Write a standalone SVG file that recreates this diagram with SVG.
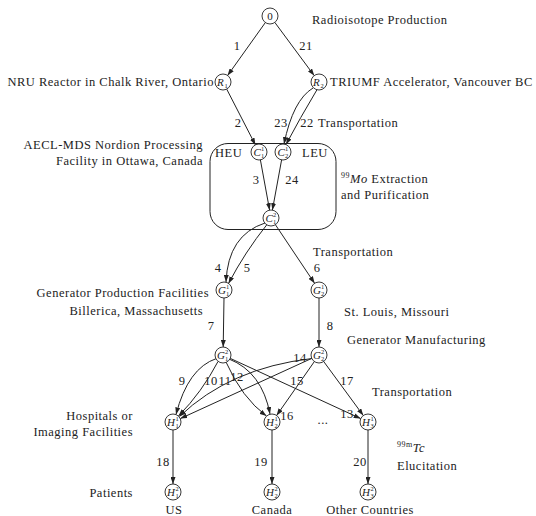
<svg xmlns="http://www.w3.org/2000/svg" width="536" height="516" viewBox="0 0 536 516">
<style>
.t{font-family:"Liberation Serif","Times New Roman",serif;font-size:12.5px;fill:#222;letter-spacing:0.5px}
.n{font-family:"Liberation Serif","Times New Roman",serif;font-size:11px;font-style:italic;fill:#222}
.s{font-family:"Liberation Serif","Times New Roman",serif;font-size:6.5px;fill:#222}
.e{fill:none;stroke:#222;stroke-width:1;marker-end:url(#a)}
.c{fill:#fff;stroke:#222;stroke-width:0.9}
.m{text-anchor:middle}
.r{text-anchor:end}
</style>
<defs>
<marker id="a" markerUnits="userSpaceOnUse" markerWidth="7" markerHeight="5" refX="7" refY="2.5" orient="auto">
<path d="M0,0 L7,2.5 L0,5 z" fill="#222"/>
</marker>
</defs>
<rect width="536" height="516" fill="#fff"/>
<rect x="210" y="143.5" width="126" height="86" rx="18" fill="none" stroke="#222" stroke-width="1"/>
<g id="connectors">
<path class="e" d="M265.4,22.5 L227.6,75.5"/>
<path class="e" d="M274.8,22.4 L314.2,75.6"/>
<path class="e" d="M226.7,89.1 L255.4,144.9"/>
<path class="e" d="M313,88 Q293,100 284,144"/>
<path class="e" d="M317,89.7 Q300,118 286,144.5"/>
<path class="e" d="M260.4,159.9 L269.6,210.1"/>
<path class="e" d="M281.6,159.9 L272.4,210.1"/>
<path class="e" d="M265,223 Q228,235 226,282"/>
<path class="e" d="M267,224.5 Q245,252 228.5,283.5"/>
<path class="e" d="M275.4,224.7 L314.6,283.3"/>
<path class="e" d="M224,298 L223.2,347"/>
<path class="e" d="M319,298 L319,347"/>
<path class="e" d="M216.5,358.5 Q188,368 176,414.5"/>
<path class="e" d="M218,361.5 Q202,392 178.5,416"/>
<path class="e" d="M226,362 Q242,398 266.5,416"/>
<path class="e" d="M229,359 Q262,372 270,414"/>
<path class="e" d="M230.3,358.4 L360.7,418.6"/>
<path class="e" d="M312,358.5 Q230,368 179.5,416.5"/>
<path class="e" d="M311.7,358.4 L180.3,418.6"/>
<path class="e" d="M314.4,361.5 L276.6,415.5"/>
<path class="e" d="M323.7,361.5 L363.3,415.5"/>
<path class="e" d="M173,430 L173,484"/>
<path class="e" d="M272,430 L272,484"/>
<path class="e" d="M368,430 L368,484"/>
</g>
<g id="edge-labels" class="t m">
<text x="237" y="50">1</text>
<text x="306" y="50">21</text>
<text x="238" y="127">2</text>
<text x="281" y="127">23</text>
<text x="307" y="127">22</text>
<text x="256" y="184">3</text>
<text x="292" y="184">24</text>
<text x="218" y="272">4</text>
<text x="247" y="272">5</text>
<text x="317" y="272">6</text>
<text x="211" y="330">7</text>
<text x="330" y="330">8</text>
<text x="300" y="362">14</text>
<text x="182" y="385">9</text>
<text x="211" y="385">10</text>
<text x="225" y="385">11</text>
<text x="237" y="381">12</text>
<text x="297" y="385">15</text>
<text x="347" y="385">17</text>
<text x="287" y="420">16</text>
<text x="347" y="418">13</text>
<text x="323" y="424">...</text>
<text x="163" y="466">18</text>
<text x="261" y="466">19</text>
<text x="360" y="466">20</text>
</g>
<g id="n0"><circle class="c" cx="270" cy="16" r="8"/><text class="t m" x="270" y="20" style="font-size:11px;letter-spacing:0">0</text></g>
<g id="R1"><circle class="c" cx="223" cy="82" r="8"/><text class="n" x="217" y="85.8">R</text><text class="s" x="224.5" y="88">1</text></g>
<g id="R2"><circle class="c" cx="319" cy="82" r="8"/><text class="n" x="313" y="85.8">R</text><text class="s" x="320.5" y="88">2</text></g>
<g id="C11"><circle class="c" cx="259" cy="152" r="8"/><text class="n" x="253.5" y="155.8">C</text><text class="s" x="261" y="151">1</text><text class="s" x="261" y="157.5">1</text></g>
<g id="C12"><circle class="c" cx="283" cy="152" r="8"/><text class="n" x="277.5" y="155.8">C</text><text class="s" x="285" y="151">1</text><text class="s" x="285" y="157.5">2</text></g>
<g id="C2"><circle class="c" cx="271" cy="218" r="8"/><text class="n" x="265.5" y="221.8">C</text><text class="s" x="273" y="217">2</text><text class="s" x="273" y="223.5">1</text></g>
<g id="G11"><circle class="c" cx="224" cy="290" r="8"/><text class="n" x="218" y="293.8">G</text><text class="s" x="226" y="289">1</text><text class="s" x="226" y="295.5">1</text></g>
<g id="G21"><circle class="c" cx="319" cy="290" r="8"/><text class="n" x="313" y="293.8">G</text><text class="s" x="321" y="289">1</text><text class="s" x="321" y="295.5">2</text></g>
<g id="G12"><circle class="c" cx="223" cy="355" r="8"/><text class="n" x="217" y="358.8">G</text><text class="s" x="225" y="354">2</text><text class="s" x="225" y="360.5">1</text></g>
<g id="G22"><circle class="c" cx="319" cy="355" r="8"/><text class="n" x="313" y="358.8">G</text><text class="s" x="321" y="354">2</text><text class="s" x="321" y="360.5">2</text></g>
<g id="H11"><circle class="c" cx="173" cy="422" r="8"/><text class="n" x="167" y="425.8">H</text><text class="s" x="175.5" y="421">1</text><text class="s" x="175.5" y="427.5">1</text></g>
<g id="H21"><circle class="c" cx="272" cy="422" r="8"/><text class="n" x="266" y="425.8">H</text><text class="s" x="274.5" y="421">1</text><text class="s" x="274.5" y="427.5">2</text></g>
<g id="H31"><circle class="c" cx="368" cy="422" r="8"/><text class="n" x="362" y="425.8">H</text><text class="s" x="370.5" y="421">1</text><text class="s" x="370.5" y="427.5">3</text></g>
<g id="H12"><circle class="c" cx="173" cy="492" r="8"/><text class="n" x="167" y="495.8">H</text><text class="s" x="175.5" y="491">2</text><text class="s" x="175.5" y="497.5">1</text></g>
<g id="H22"><circle class="c" cx="272" cy="492" r="8"/><text class="n" x="266" y="495.8">H</text><text class="s" x="274.5" y="491">2</text><text class="s" x="274.5" y="497.5">2</text></g>
<g id="H32"><circle class="c" cx="368" cy="492" r="8"/><text class="n" x="362" y="495.8">H</text><text class="s" x="370.5" y="491">2</text><text class="s" x="370.5" y="497.5">3</text></g>
<g id="annotations" class="t">
<text x="312" y="24">Radioisotope Production</text>
<text class="r" x="214" y="86">NRU Reactor in Chalk River, Ontario</text>
<text x="330" y="86">TRIUMF Accelerator, Vancouver BC</text>
<text x="318" y="127">Transportation</text>
<text class="r" x="203" y="149">AECL-MDS Nordion Processing</text>
<text class="r" x="203" y="165">Facility in Ottawa, Canada</text>
<text x="215" y="156.5">HEU</text>
<text x="302" y="156.5">LEU</text>
<text x="341" y="183"><tspan style="font-size:8px" dy="-5">99</tspan><tspan style="font-style:italic" dy="5">Mo</tspan> Extraction</text>
<text x="341" y="199">and Purification</text>
<text x="313" y="256">Transportation</text>
<text class="r" x="209" y="297">Generator Production Facilities</text>
<text class="r" x="203" y="315">Billerica, Massachusetts</text>
<text x="344" y="316">St. Louis, Missouri</text>
<text x="347" y="344">Generator Manufacturing</text>
<text x="372" y="396">Transportation</text>
<text class="r" x="133" y="420">Hospitals or</text>
<text class="r" x="133" y="436">Imaging Facilities</text>
<text x="397" y="452"><tspan style="font-size:8px" dy="-5">99m</tspan><tspan style="font-style:italic" dy="5">Tc</tspan></text>
<text x="397" y="470">Elucitation</text>
<text class="r" x="133" y="497">Patients</text>
<text class="m" x="174" y="514">US</text>
<text class="m" x="272" y="514">Canada</text>
<text class="m" x="370" y="514">Other Countries</text>
</g>
</svg>
